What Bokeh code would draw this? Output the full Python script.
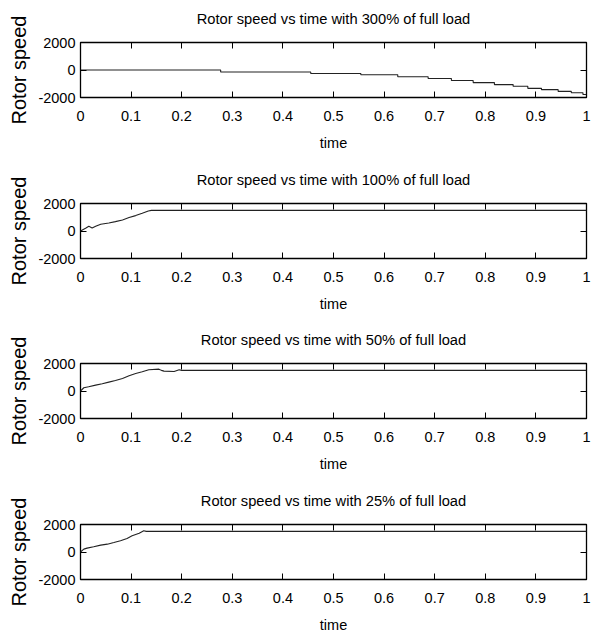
from bokeh.plotting import figure
from bokeh.layouts import column
from bokeh.models import LinearAxis, FixedTicker, Range1d
from bokeh.embed import file_html
from bokeh.resources import INLINE

# Axis ticks and their labels
time_ticks = [0, 0.1, 0.2, 0.3, 0.4, 0.5, 0.6, 0.7, 0.8, 0.9, 1]
time_tick_labels = ["0", "0.1", "0.2", "0.3", "0.4", "0.5", "0.6", "0.7", "0.8", "0.9", "1"]
speed_ticks = [-2000, 0, 2000]
speed_tick_labels = ["-2000", "0", "2000"]

panel_titles = [
    "Rotor speed vs time with 300% of full load",
    "Rotor speed vs time with 100% of full load",
    "Rotor speed vs time with 50% of full load",
    "Rotor speed vs time with 25% of full load",
]

# 300% load: speed held, then falls off in steps (step starts, level after each)
t_300 = [0, 0.277, 0.455, 0.554, 0.627, 0.687, 0.733, 0.776, 0.818, 0.855,
         0.884, 0.911, 0.944, 0.970, 0.993, 1.0]
w_300 = [0, -150, -250, -345, -495, -620, -765, -915, -1060, -1185,
         -1335, -1430, -1555, -1655, -1780, -1780]

# 100% load
t_100 = [0, 0.010, 0.0165, 0.023, 0.030, 0.040, 0.056, 0.069, 0.083, 0.096,
         0.109, 0.122, 0.134, 0.14, 1.0]
w_100 = [0, 195, 340, 220, 340, 490, 585, 680, 805, 975,
         1120, 1290, 1460, 1500, 1500]

# 50% load
t_50 = [0, 0.0066, 0.016, 0.030, 0.043, 0.056, 0.069, 0.083, 0.096, 0.109,
        0.122, 0.135, 0.155, 0.160, 0.165, 0.185, 0.195, 0.20, 1.0]
w_50 = [0, 235, 305, 425, 525, 645, 765, 910, 1105, 1275,
        1395, 1540, 1590, 1500, 1445, 1420, 1540, 1500, 1500]

# 25% load
t_25 = [0, 0.0066, 0.013, 0.026, 0.040, 0.053, 0.066, 0.079, 0.092, 0.102,
        0.116, 0.125, 0.13, 1.0]
w_25 = [0, 210, 280, 380, 500, 570, 690, 815, 985, 1175,
        1370, 1540, 1500, 1500]

FONT = "Liberation Sans"
LINE = "#222222"

time_labels = dict(zip(time_ticks, time_tick_labels))
speed_labels = dict(zip(speed_ticks, speed_tick_labels))


def make_panel(title, height):
    p = figure(width=597, height=height, output_backend="svg", toolbar_location=None,
               x_range=Range1d(0, 1), y_range=Range1d(-2000, 2000),
               min_border_left=80, min_border_right=11, min_border_top=42,
               min_border_bottom=height - 42 - 55)
    p.grid.visible = False
    p.outline_line_color = "black"
    p.outline_line_width = 1.3
    p.background_fill_color = "white"
    p.border_fill_color = "white"

    xa = p.xaxis[0]
    xa.ticker = FixedTicker(ticks=time_ticks)
    xa.major_label_overrides = time_labels
    xa.axis_label = "time"
    ya = p.yaxis[0]
    ya.ticker = FixedTicker(ticks=speed_ticks)
    ya.major_label_overrides = speed_labels
    ya.axis_label = "Rotor speed"

    # mirrored ticks on the top and right edges of the box; the top axis
    # carries the panel heading as its label
    top = LinearAxis(ticker=FixedTicker(ticks=time_ticks), axis_label=title)
    right = LinearAxis(ticker=FixedTicker(ticks=speed_ticks))
    p.add_layout(top, "above")
    p.add_layout(right, "right")

    for ax in (xa, ya, top, right):
        ax.axis_line_color = None
        ax.major_tick_in = 6
        ax.major_tick_out = 0
        ax.minor_tick_in = 0
        ax.minor_tick_out = 0
        ax.major_tick_line_color = "black"
        ax.major_label_text_font = FONT
        ax.major_label_text_font_size = "14.5px"
        ax.major_label_text_color = "black"
        ax.axis_label_text_font = FONT
        ax.axis_label_text_font_style = "normal"
        ax.axis_label_text_color = "black"
    xa.major_label_standoff = 13
    xa.axis_label_text_font_size = "14.5px"
    xa.axis_label_standoff = 11
    ya.major_label_standoff = 5
    ya.axis_label_text_font_size = "20px"
    ya.axis_label_standoff = 5

    for ax in (top, right):
        ax.major_label_standoff = 0
        ax.major_label_text_font_size = "0px"
        ax.major_label_text_color = None
    top.axis_label_text_font_size = "14.7px"
    top.axis_label_standoff = 16
    return p


heights = [161, 160, 161, 160]
panels = [make_panel(t, h) for t, h in zip(panel_titles, heights)]

panels[0].step(t_300, w_300, mode="after", line_color=LINE, line_width=1.1)
panels[1].line(t_100, w_100, line_color=LINE, line_width=1.1)
panels[2].line(t_50, w_50, line_color=LINE, line_width=1.1)
panels[3].line(t_25, w_25, line_color=LINE, line_width=1.1)

layout = column(*panels, spacing=0)
open("out.html", "w").write(file_html(layout, INLINE))
